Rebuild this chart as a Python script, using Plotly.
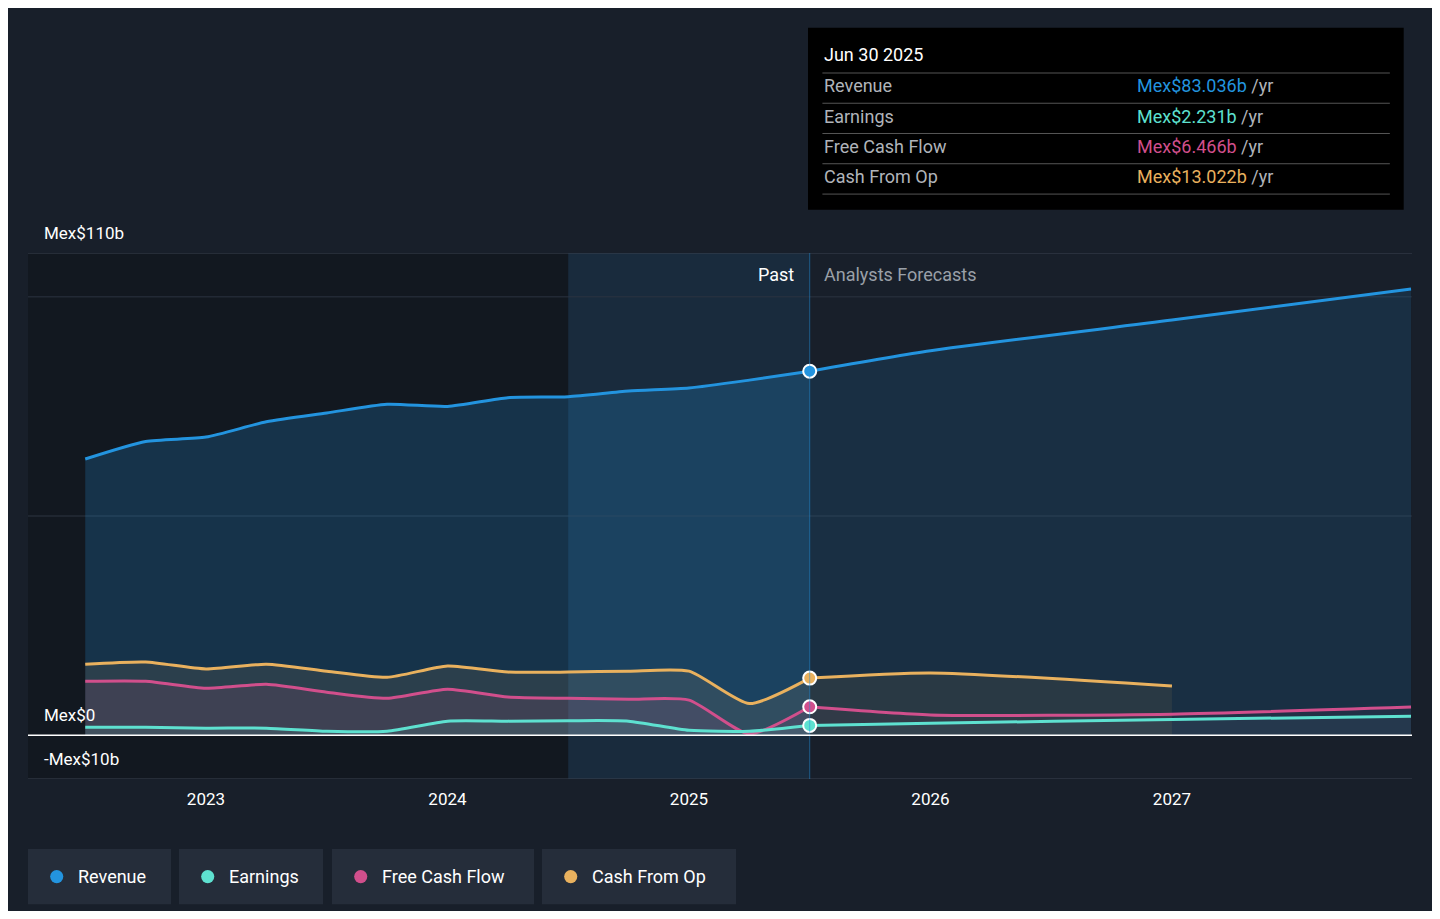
import plotly.graph_objects as go

BG = '#181f2a'
REV, EARN, FCF, CFO = '#2394df', '#5ee1d0', '#d14f8c', '#e9b15e'

past_x = [2022.5, 2022.75, 2023.0, 2023.25, 2023.5, 2023.75, 2024.0, 2024.25, 2024.5, 2024.75, 2025.0, 2025.25, 2025.5]
revenue = [63, 67, 68, 71.5, 73.5, 75.5, 75, 77, 77.2, 78.5, 79.2, 81, 83.036]
cfo = [16.2, 16.7, 15.1, 16.2, 14.6, 13.2, 15.8, 14.4, 14.4, 14.6, 14.6, 7.2, 13.022]
fcf = [12.3, 12.3, 10.7, 11.6, 9.8, 8.4, 10.5, 8.7, 8.4, 8.2, 8.0, 0.3, 6.466]
earn = [1.8, 1.8, 1.6, 1.6, 0.9, 0.9, 3.2, 3.2, 3.3, 3.2, 1.1, 0.9, 2.231]

fc_x = [2025.5, 2026.0, 2027.0, 2027.99]
fc_rev = [83.036, 87.7, 94.7, 101.8]
fc_earn = [2.231, 2.7, 3.6, 4.3]
fc_fcf = [6.466, 4.6, 4.8, 6.4]
fc_cfo_x = [2025.5, 2026.0, 2027.0]
fc_cfo = [13.022, 14.2, 11.2]

fig = go.Figure()

# background regions
fig.add_vrect(x0=2022.263, x1=2024.5, fillcolor='rgba(0,0,0,0.22)', line_width=0, layer='below')
fig.add_vrect(x0=2024.5, x1=2025.5, fillcolor='rgba(35,148,223,0.11)', line_width=0, layer='below')
fig.add_vline(x=2025.5, line=dict(color='rgba(35,148,223,0.5)', width=1))

def series(x, y, color, fill_alpha, width=3):
    fig.add_trace(go.Scatter(x=x, y=y, mode='lines', line=dict(color=color, width=width, shape='spline', smoothing=0.6),
                             fill='tozeroy', fillcolor=fill_alpha, hoverinfo='skip', showlegend=False))

series(past_x, revenue, REV, 'rgba(35,148,223,0.22)')
series(fc_x, fc_rev, REV, 'rgba(35,148,223,0.14)')
series(past_x, cfo, CFO, 'rgba(233,177,94,0.10)')
series(fc_cfo_x, fc_cfo, CFO, 'rgba(233,177,94,0.08)')
series(past_x, fcf, FCF, 'rgba(209,79,140,0.12)')
series(fc_x, fc_fcf, FCF, 'rgba(209,79,140,0.05)')
series(past_x, earn, EARN, 'rgba(94,225,208,0.10)')
series(fc_x, fc_earn, EARN, 'rgba(94,225,208,0.05)')

for v, c in [(83.036, REV), (13.022, CFO), (6.466, FCF), (2.231, EARN)]:
    fig.add_trace(go.Scatter(x=[2025.5], y=[v], mode='markers', showlegend=False, hoverinfo='skip',
                             marker=dict(color=c, size=13, line=dict(color='white', width=2))))

# grid lines
for yv, col in [(110, '#3a4250'), (100, '#2c3440'), (50, '#2c3440'), (-10, '#3a4250')]:
    fig.add_hline(y=yv, line=dict(color=col, width=1), layer='below')
fig.add_hline(y=0, line=dict(color='white', width=1.5))

for yv, txt in [(110, 'Mex$110b'), (0, 'Mex$0'), (-10, '-Mex$10b')]:
    fig.add_annotation(xref='paper', yref='y', x=0.01, y=yv, text=txt, xanchor='left', yanchor='bottom',
                       yshift=8, showarrow=False, font=dict(color='white', size=17))
fig.add_annotation(x=2025.5, y=105, xanchor='right', xshift=-14, showarrow=False, text='Past',
                   font=dict(color='white', size=18))
fig.add_annotation(x=2025.5, y=105, xanchor='left', xshift=12, showarrow=False, text='Analysts Forecasts',
                   font=dict(color='#9aa0a8', size=18))

# tooltip box
fig.add_shape(type='rect', xref='paper', yref='paper', x0=0.5636, x1=0.994, y0=1.082, y1=1.428,
              fillcolor='black', line_width=0)
fig.add_annotation(xref='paper', yref='paper', x=0.574, y=1.378, text='Jun 30 2025', showarrow=False,
                   xanchor='left', yanchor='middle', font=dict(color='white', size=18))
rows = [('Revenue', 'Mex$83.036b', REV), ('Earnings', 'Mex$2.231b', EARN),
        ('Free Cash Flow', 'Mex$6.466b', FCF), ('Cash From Op', 'Mex$13.022b', CFO)]
for i, (lab, val, col) in enumerate(rows):
    yp = 1.3175 - i * 0.0575
    fig.add_shape(type='line', xref='paper', yref='paper', x0=0.574, x1=0.984, y0=yp + 0.0247, y1=yp + 0.0247,
                  line=dict(color='#555', width=1))
    fig.add_annotation(xref='paper', yref='paper', x=0.574, y=yp, text=lab, showarrow=False, xanchor='left',
                       yanchor='middle', font=dict(color='#b0b4ba', size=18))
    fig.add_annotation(xref='paper', yref='paper', x=0.800, y=yp, showarrow=False, xanchor='left',
                       yanchor='middle',
                       text=f'<span style="color:{col}">{val}</span> <span style="color:#b0b4ba">/yr</span>',
                       font=dict(size=18))
fig.add_shape(type='line', xref='paper', yref='paper', x0=0.574, x1=0.984, y0=1.112, y1=1.112,
              line=dict(color='#555', width=1))

# legend pills
legend = [('Revenue', REV, 28, 171), ('Earnings', EARN, 179, 323), ('Free Cash Flow', FCF, 332, 534),
          ('Cash From Op', CFO, 542, 736)]
for name, col, x0, x1 in legend:
    px0, px1 = (x0 - 28) / 1384, (x1 - 28) / 1384
    fig.add_shape(type='rect', xref='paper', yref='paper', x0=px0, x1=px1, y0=-0.238, y1=-0.133,
                  fillcolor='#252d3a', line_width=0)
    fig.add_shape(type='circle', xref='paper', yref='paper', x0=px0 + 0.016, x1=px0 + 0.0255,
                  y0=-0.198, y1=-0.173, fillcolor=col, line_width=0)
    fig.add_annotation(xref='paper', yref='paper', x=px0 + 0.035, y=-0.1855, text=name, showarrow=False,
                       xanchor='left', yanchor='middle', font=dict(color='white', size=18))

fig.update_layout(
    width=1424, height=903, paper_bgcolor=BG, plot_bgcolor=BG,
    margin=dict(l=20, r=20, t=245, b=132),
    font=dict(family='Roboto', color='white'),
    showlegend=False,
    xaxis=dict(range=[2022.263, 2027.994], tickvals=[2023, 2024, 2025, 2026, 2027],
               ticktext=['2023', '2024', '2025', '2026', '2027'], showgrid=False, zeroline=False,
               tickfont=dict(size=17, color='white'), ticks='', ticklabelstandoff=8),
    yaxis=dict(range=[-10, 110], showgrid=False, zeroline=False, showticklabels=False),
)

fig.write_html('out.html')
